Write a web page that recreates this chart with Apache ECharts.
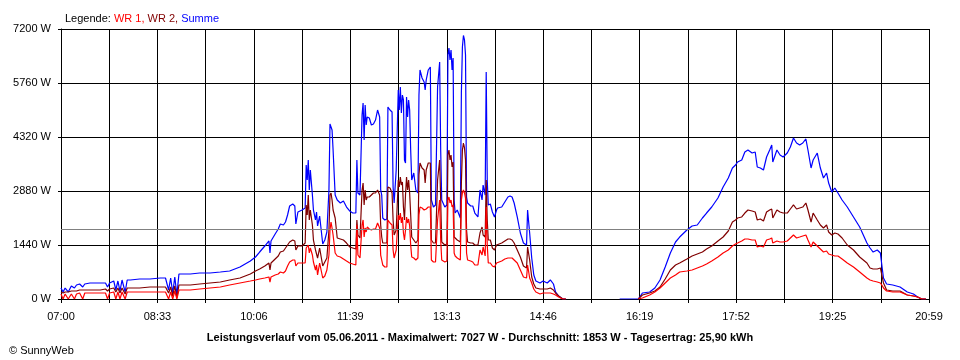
<!DOCTYPE html>
<html>
<head>
<meta charset="utf-8">
<script src="https://cdn.jsdelivr.net/npm/echarts@6/dist/echarts.min.js"></script>
<style>
html,body{margin:0;padding:0;background:#fff;}
#chart{width:960px;height:360px;}
</style>
</head>
<body>
<div id="chart"></div>
<script>
// Time in minutes after 07:00
const times = [0,2,4,7,10,13,15,18,21,23,28,38,43,45,47,51,53,55,57,59,62,64,67,76,86,96,101,104,106,108,110,112,114,125,134,144,154,163,173,183,188,192,197,201,202,203,207,210,212,215,217,219,221,224,226,227,229,233,236,237,238,239,240,241,243,244,246,247,248,250,253,255,257,259,260,261,262,263,265,267,270,273,276,279,282,285,286,287,289,291,292,293,294,295,296,298,300,302,304,305,306,308,309,310,311,313,315,316,318,320,321,322,324,326,327,328,329,330,331,332,333,334,335,336,337,338,339,341,343,345,346,347,349,351,352,353,355,357,358,360,362,364,366,367,368,371,373,374,375,376,377,378,379,380,381,383,386,387,388,389,390,391,392,393,396,398,400,403,405,407,408,410,411,412,413,415,417,419,421,422,426,429,432,434,436,438,441,444,447,450,451,453,455,457,459,463,466,470,473,476,478,481,485,488,
510,
540,558,562,569,574,579,584,589,594,598,605,610,615,620,624,629,635,640,645,649,652,654,658,661,664,668,671,673,676,679,682,685,687,688,692,695,698,702,705,708,711,714,717,720,722,725,727,731,734,737,740,742,745,748,751,755,760,766,772,779,782,785,789,792,794,795,798,804,811,818,824,828,832,836];

// Summe (W)
const summe = [293,187,293,187,347,293,373,400,320,400,427,427,427,320,427,480,240,480,213,507,187,507,507,533,533,560,560,240,560,160,587,107,667,667,693,693,720,747,853,1013,1120,1253,1413,1547,1227,1547,1733,1867,2000,1973,2053,2240,2480,2533,2480,2000,2320,2373,2427,3573,3173,3707,2907,3440,2773,2373,2107,2320,1947,2213,1467,1573,1787,2907,4667,4720,4507,3973,2773,2640,2560,2613,2453,2347,2293,2293,3707,2827,2773,4907,5227,4240,5173,4640,4853,4827,4640,4667,4773,4773,5040,4853,2907,2773,2160,2107,2133,5120,5040,4987,2987,2560,3440,5573,5040,5653,4960,5440,5307,3707,3627,5387,4853,5307,5040,3973,3173,3360,2907,2827,5440,6107,5893,5787,5573,5840,6107,6187,2640,2453,2507,5653,6320,3973,2640,2453,2507,6507,6693,6373,6640,6107,6427,2640,2293,2373,2160,5493,6720,7027,6907,6507,2720,2560,2480,2480,2293,2187,2907,2640,3040,2773,6053,3173,2507,2533,2320,2187,2373,2427,2453,2587,2720,2747,2720,2560,2187,1760,1493,1440,2373,1760,1093,640,480,427,480,427,507,400,187,80,0,0,
null,
0,0,160,187,293,507,853,1227,1520,1653,1840,1947,1973,2160,2293,2453,2693,2987,3227,3493,3573,3653,3707,3920,3973,3893,3920,3520,3493,3440,3787,3973,4107,3653,3973,3840,3787,3893,4053,4293,4160,4107,4160,4267,3973,3493,3707,3893,3493,3227,3360,3093,2853,2960,2827,2640,2453,2187,1920,1493,1360,1253,1307,1227,773,560,400,373,320,187,133,53,0,0];

// WR 2 (W)
const wr2 = [187,160,187,187,213,213,213,240,240,240,240,240,267,213,267,293,187,293,160,293,133,293,293,293,320,320,320,160,320,80,347,27,373,373,400,427,453,507,560,667,747,800,880,960,773,960,1067,1147,1253,1280,1360,1440,1520,1573,1547,1307,1413,1413,1493,2507,2240,2773,2107,2373,1973,1573,1307,1360,1093,1360,880,987,1093,1840,2773,2827,2640,2373,2160,1627,1600,1573,1493,1387,1360,1333,2107,1707,1627,2907,3093,2507,2907,2640,2720,2720,2773,2827,2827,2827,2907,2773,1973,1653,1493,1493,1493,2987,2960,2827,2107,1707,1840,3173,2987,3253,3040,3120,2453,2107,2773,3253,2907,3173,2827,2240,1653,1573,1493,1573,3307,3627,3493,3440,3093,3440,3627,3627,1573,1493,1493,3173,3707,2640,1520,1440,1467,3840,3973,3707,3840,3520,3653,1653,1653,1573,1520,3093,3973,4160,4027,3707,1840,1520,1493,1493,1440,1440,1760,1920,1707,1653,3173,2107,1573,1573,1360,1307,1440,1467,1493,1547,1600,1600,1573,1493,1307,1120,880,827,1387,1040,587,400,293,267,267,267,293,240,160,80,0,0,
null,
null,0,107,160,213,320,533,773,907,960,1067,1147,1200,1253,1333,1413,1547,1653,1813,2053,2107,2160,2187,2293,2373,2347,2320,2107,2133,2080,2320,2373,2400,2160,2373,2320,2293,2293,2400,2507,2400,2427,2453,2560,2373,2053,2293,2107,1973,1893,1973,1787,1707,1760,1733,1627,1440,1307,1120,960,827,800,800,827,560,427,240,213,213,107,80,53,0,0];

// WR 1 (W)
const wr1 = [133,0,133,0,133,0,133,160,0,160,160,160,160,0,160,187,0,187,0,187,0,187,187,187,187,187,187,0,187,0,213,0,240,240,267,293,320,373,427,480,507,533,560,587,453,587,640,667,720,693,747,880,987,1040,1040,880,960,960,960,1360,1307,1440,1227,1360,1173,987,773,907,640,960,560,613,773,1173,1840,2053,1893,1707,1227,1147,1120,1067,1013,960,933,907,1973,1173,1093,1973,2107,1653,1893,1787,1920,1867,1840,1867,1867,1867,2027,1893,1173,1040,907,853,853,2107,2027,1973,1307,1093,1307,2240,2107,2293,2027,2187,1760,1573,1840,2187,2027,2133,1947,1440,1120,1093,1040,1093,2240,2453,2427,2373,2320,2400,2453,2453,1040,987,987,2107,2640,1573,1040,987,1013,2640,2720,2560,2640,2453,2507,1227,1147,1093,1040,2640,2827,2907,2827,2693,1227,1040,1013,987,907,907,1307,1173,1387,1147,2453,1440,960,960,880,853,960,987,1013,1067,1093,1093,1093,1040,960,773,587,560,907,560,427,267,187,133,160,160,160,133,107,53,0,0,
null,
null,0,27,107,187,293,427,560,640,720,747,773,827,880,933,1013,1120,1227,1307,1413,1467,1493,1547,1600,1600,1573,1573,1387,1413,1387,1573,1600,1627,1493,1547,1520,1520,1547,1627,1707,1627,1653,1680,1707,1573,1387,1520,1413,1333,1253,1280,1200,1173,1147,1147,1067,960,853,720,560,507,480,453,427,347,293,213,187,187,107,80,53,0,0];

const xTickLabels = ['07:00','08:33','10:06','11:39','13:13','14:46','16:19','17:52','19:25','20:59'];
const yTickValues = [0,1440,2880,4320,5760,7200];
const averageW = 1853;
const titleText = 'Leistungsverlauf vom 05.06.2011 - Maximalwert: 7027 W - Durchschnitt: 1853 W - Tagesertrag: 25,90 kWh';

const X_MAX = 839;
const X_STEP = X_MAX / 18;

function pairs(vals){ return times.map((t,i)=>[t, vals[i]]); }

const chart = echarts.init(document.getElementById('chart'), null, {renderer:'canvas'});
const FONT = 'Liberation Sans';
chart.setOption({
  animation: false,
  backgroundColor: '#ffffff',
  title: [
    {
      left: 60, top: 8,
      text: '{k|Legende: }{a|WR 1,}{b| WR 2,}{c| Summe}',
      textStyle: {
        fontFamily: FONT, fontSize: 11, fontWeight: 'normal',
        rich: {
          k: {color:'#000000', fontFamily: FONT, fontSize: 11},
          a: {color:'#ff0000', fontFamily: FONT, fontSize: 11},
          b: {color:'#800000', fontFamily: FONT, fontSize: 11},
          c: {color:'#0000ff', fontFamily: FONT, fontSize: 11}
        }
      }
    },
    {
      left: 'center', top: 327,
      text: titleText,
      textStyle: {fontFamily: FONT, fontSize: 11, fontWeight: 'bold', color:'#000'}
    },
    {
      left: 4, top: 340,
      text: '© SunnyWeb',
      textStyle: {fontFamily: FONT, fontSize: 11, fontWeight: 'normal', color:'#000'}
    }
  ],
  grid: {left: 61, right: 31, top: 29, bottom: 61, containLabel: false},
  xAxis: {
    type: 'value', min: 0, max: X_MAX, interval: X_STEP,
    axisLine: {show: true, lineStyle: {color:'#000', width: 1}},
    axisTick: {show: true, length: 4, lineStyle: {color:'#000', width: 1}},
    splitLine: {show: true, lineStyle: {color:'#000', width: 1}},
    axisLabel: {
      color:'#000', fontFamily: FONT, fontSize: 11, margin: 12,
      formatter: function(v){
        const k = Math.round(v / X_STEP);
        return (k % 2 === 0) ? (xTickLabels[k/2] || '') : '';
      }
    }
  },
  yAxis: {
    type: 'value', min: yTickValues[0], max: yTickValues[yTickValues.length-1], interval: yTickValues[1]-yTickValues[0],
    axisLine: {show: true, lineStyle: {color:'#000', width: 1}},
    axisTick: {show: true, length: 3, lineStyle: {color:'#000', width: 1}},
    splitLine: {show: true, lineStyle: {color:'#000', width: 1}},
    axisLabel: {color:'#000', fontFamily: FONT, fontSize: 11, margin: 10, formatter: function(v){ return String(Math.round(v)) + ' W'; }}
  },
  series: [
    {
      name: 'Summe', type: 'line', data: pairs(summe), showSymbol: false, symbol: 'none',
      connectNulls: false, lineStyle: {color:'#0000ff', width: 1.2}, itemStyle: {color:'#0000ff'},
      markLine: {
        silent: true, symbol: ['none','none'], label: {show:false},
        lineStyle: {color:'#808080', type:'solid', width: 1},
        data: [{yAxis: averageW}]
      }
    },
    {
      name: 'WR 2', type: 'line', data: pairs(wr2), showSymbol: false, symbol: 'none',
      connectNulls: false, lineStyle: {color:'#800000', width: 1.2}, itemStyle: {color:'#800000'}
    },
    {
      name: 'WR 1', type: 'line', data: pairs(wr1), showSymbol: false, symbol: 'none',
      connectNulls: false, lineStyle: {color:'#ff0000', width: 1.2}, itemStyle: {color:'#ff0000'}
    }
  ]
});
</script>
</body>
</html>
